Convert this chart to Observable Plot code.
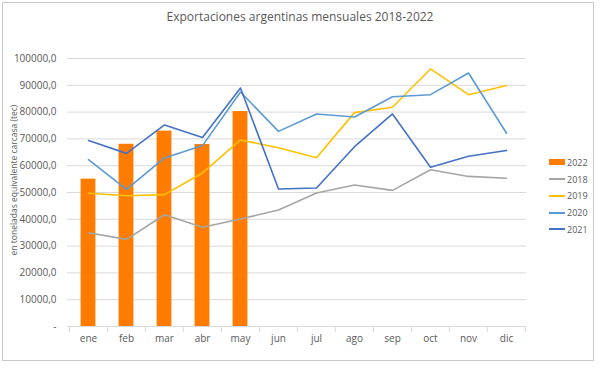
<!DOCTYPE html>
<html>
<head>
<meta charset="utf-8">
<script src="https://cdn.jsdelivr.net/npm/d3@7"></script>
<script src="https://cdn.jsdelivr.net/npm/@observablehq/plot@0.6"></script>
<style>
  html, body { margin: 0; padding: 0; background: #fff; }
  #wrap { position: relative; width: 600px; height: 368px; font-family: "Open Sans", sans-serif; color: #595959; overflow: hidden; }
  #frame { position: absolute; left: 2px; top: 2px; width: 592px; height: 359px; border: 1px solid #C8C8C8; box-sizing: border-box; pointer-events: none; }
  #title { position: absolute; left: 0; width: 600px; top: 8px; text-align: center; font-size: 12px; color: #595959; }
  #ytitle { position: absolute; left: 13px; top: 180px; transform: translate(-50%, -50%) rotate(-90deg); white-space: nowrap; font-size: 8.5px; color: #595959; }
  #legend { position: absolute; left: 549px; top: 154px; font-size: 9px; color: #595959; }
  .li { display: flex; align-items: center; height: 16.75px; }
  .sw { width: 16px; margin-right: 2px; }
  #chart { position: absolute; left: 0; top: 0; }
</style>
</head>
<body>
<div id="wrap">
  <div id="chart"></div>
  <div id="title">Exportaciones argentinas mensuales 2018-2022</div>
  <div id="ytitle">en toneladas equivalente carcasa (tec)</div>
  <div id="legend"></div>
  <div id="frame"></div>
</div>
<script>
const months = ["ene","feb","mar","abr","may","jun","jul","ago","sep","oct","nov","dic"];
const v2022 = [55000, 68000, 72900, 67900, 80200];
const v2018 = [35000, 32500, 41700, 37000, 40100, 43500, 49800, 52800, 50800, 58500, 56000, 55300];
const v2019 = [49700, 48800, 49200, 57300, 69600, 66700, 63000, 79800, 81800, 96100, 86500, 89900];
const v2020 = [62300, 51200, 62900, 67500, 87500, 72800, 79300, 78200, 85700, 86500, 94600, 72100];
const v2021 = [69400, 64600, 75200, 70500, 89000, 51300, 51700, 67100, 79300, 59400, 63500, 65700];
const yTicks = [0,10000,20000,30000,40000,50000,60000,70000,80000,90000,100000];
const lineSeries = ["2018","2019","2020","2021"];
const lineColors = ["#A5A5A5","#FFC000","#5B9BD5","#4472C4"];
const barColor = "#FF7C00";

const W = 600, H = 368, ML = 67, MR = 74, MT = 58, MB = 42;
const bw = (W - ML - MR) / months.length;

const bars = v2022.map((v, i) => ({m: months[i], v}));
const seriesVals = [v2018, v2019, v2020, v2021];
const lines = [];
seriesVals.forEach((arr, s) => arr.forEach((v, i) => lines.push({s: lineSeries[s], m: months[i], v})));

const chart = Plot.plot({
  width: W, height: H,
  marginLeft: ML, marginRight: MR, marginTop: MT, marginBottom: MB,
  style: {fontFamily: "Open Sans, sans-serif", fontSize: "10px", color: "#595959", background: "transparent", overflow: "visible"},
  x: {type: "band", domain: months, padding: 0, label: null, tickSize: 0, tickPadding: 8, fontSize: 9},
  y: {domain: [0, 100000], ticks: yTicks, label: null, tickSize: 0, tickPadding: 11,
      tickFormat: d => d === 0 ? "-" : d.toFixed(1).replace(".", ",")},
  color: {domain: lineSeries, range: lineColors},
  marks: [
    Plot.ruleY(yTicks.filter(d => d > 0), {stroke: "#D9D9D9", strokeWidth: 1}),
    Plot.ruleY([0], {stroke: "#D9D9D9", strokeWidth: 1}),
    Plot.ruleX(months, {x: d => d, y1: 0, y2: 0, dx: -bw / 2, insetBottom: -6, stroke: "#D9D9D9"}),
    Plot.ruleX(months.slice(-1), {x: d => d, y1: 0, y2: 0, dx: bw / 2, insetBottom: -6, stroke: "#D9D9D9"}),
    Plot.barY(bars, {x: "m", y: "v", fill: barColor, insetLeft: 11.6, insetRight: 11.6}),
    Plot.line(lines, {x: "m", y: "v", z: "s", stroke: "s", strokeWidth: 1.6})
  ]
});
document.getElementById("chart").appendChild(chart);

// legend
const leg = document.getElementById("legend");
const items = [{name: "2022", color: barColor, bar: true}].concat(lineSeries.map((s, i) => ({name: s, color: lineColors[i]})));
items.forEach(it => {
  const row = document.createElement("div");
  row.className = "li";
  const sw = document.createElement("div");
  sw.className = "sw";
  sw.style.background = it.color;
  sw.style.height = it.bar ? "6px" : "2px";
  const t = document.createElement("span");
  t.textContent = it.name;
  row.appendChild(sw); row.appendChild(t);
  leg.appendChild(row);
});
</script>
</body>
</html>
